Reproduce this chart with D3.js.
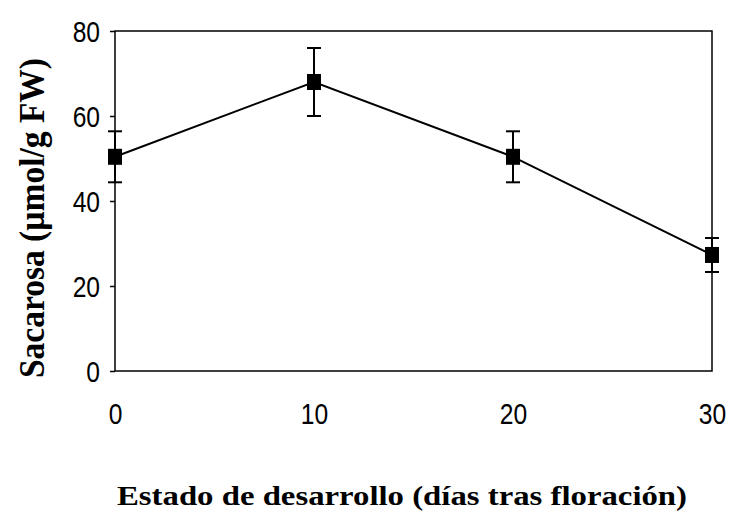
<!DOCTYPE html>
<html>
<head>
<meta charset="utf-8">
<script src="https://cdn.jsdelivr.net/npm/d3@7"></script>
<style>
  body { margin: 0; background: #fff; }
  .tick text { font-family: "Liberation Sans", Arial, sans-serif; font-size: 30px; fill: #000; }
  .axis-title { font-family: "Liberation Serif", "Times New Roman", serif; font-weight: bold; fill: #000; }
</style>
</head>
<body>
<svg width="734" height="513"></svg>
<script>
const days = [0, 10, 20, 30];
const sucrose = [50.4, 68, 50.4, 27.3];
const errors = [6, 8, 6, 4];
const xTicks = [0, 10, 20, 30];
const yTicks = [0, 20, 40, 60, 80];

const svg = d3.select('svg');
const margin = { top: 31, left: 115, right: 22, bottom: 142 };
const width = +svg.attr('width') - margin.left - margin.right;
const height = +svg.attr('height') - margin.top - margin.bottom;

const xScale = d3.scaleLinear().domain([0, 30]).range([0, width]);
const yScale = d3.scaleLinear().domain([0, 80]).range([height, 0]);

const g = svg.append('g')
  .attr('transform', `translate(${margin.left}, ${margin.top})`);

// frame
g.append('rect')
  .attr('width', width)
  .attr('height', height)
  .attr('fill', 'none')
  .attr('stroke', '#000')
  .attr('stroke-width', 1.5);

const yAxis = g.append('g')
  .call(d3.axisLeft(yScale).tickValues(yTicks).tickSize(5).tickPadding(10));
const xAxis = g.append('g')
  .attr('transform', `translate(0, ${height})`)
  .call(d3.axisBottom(xScale).tickValues(xTicks).tickSize(0).tickPadding(32));
[yAxis, xAxis].forEach(a => {
  a.select('.domain').remove();
  a.selectAll('.tick line').attr('stroke', '#000').attr('stroke-width', 1.5);
  // digits in the original are narrow, squeeze them a bit
  a.selectAll('.tick text').each(function () {
    const len = this.getComputedTextLength();
    d3.select(this).attr('textLength', len * 0.82).attr('lengthAdjust', 'spacingAndGlyphs');
  });
});
yAxis.selectAll('.tick text').attr('dy', '0.34em');

// line
g.append('path')
  .datum(days.map((d, i) => [d, sucrose[i]]))
  .attr('fill', 'none')
  .attr('stroke', '#000')
  .attr('stroke-width', 2)
  .attr('d', d3.line().x(d => xScale(d[0])).y(d => yScale(d[1])));

// error bars
const errG = g.append('g');
days.forEach((d, i) => {
  const x = xScale(d);
  const top = yScale(sucrose[i] + errors[i]);
  const bottom = yScale(sucrose[i] - errors[i]);
  errG.append('line').attr('x1', x).attr('x2', x).attr('y1', top).attr('y2', bottom)
    .attr('stroke', '#000').attr('stroke-width', 2);
  [top, bottom].forEach(y => {
    errG.append('line').attr('x1', x - 7).attr('x2', x + 7).attr('y1', y).attr('y2', y)
      .attr('stroke', '#000').attr('stroke-width', 2);
  });
});

// markers
g.selectAll('rect.marker')
  .data(days)
  .enter()
  .append('rect')
    .attr('class', 'marker')
    .attr('x', d => xScale(d) - 7)
    .attr('y', (d, i) => yScale(sucrose[i]) - 8)
    .attr('width', 14)
    .attr('height', 16)
    .attr('fill', '#000');

// titles
svg.append('text')
  .attr('class', 'axis-title')
  .attr('x', 117)
  .attr('y', 505)
  .style('font-size', '27px')
  .attr('textLength', 570)
  .attr('lengthAdjust', 'spacingAndGlyphs')
  .text('Estado de desarrollo (días tras floración)');

svg.append('text')
  .attr('class', 'axis-title')
  .attr('transform', 'translate(44, 378) rotate(-90)')
  .style('font-size', '36px')
  .attr('textLength', 320)
  .attr('lengthAdjust', 'spacingAndGlyphs')
  .text('Sacarosa (µmol/g FW)');
</script>
</body>
</html>
